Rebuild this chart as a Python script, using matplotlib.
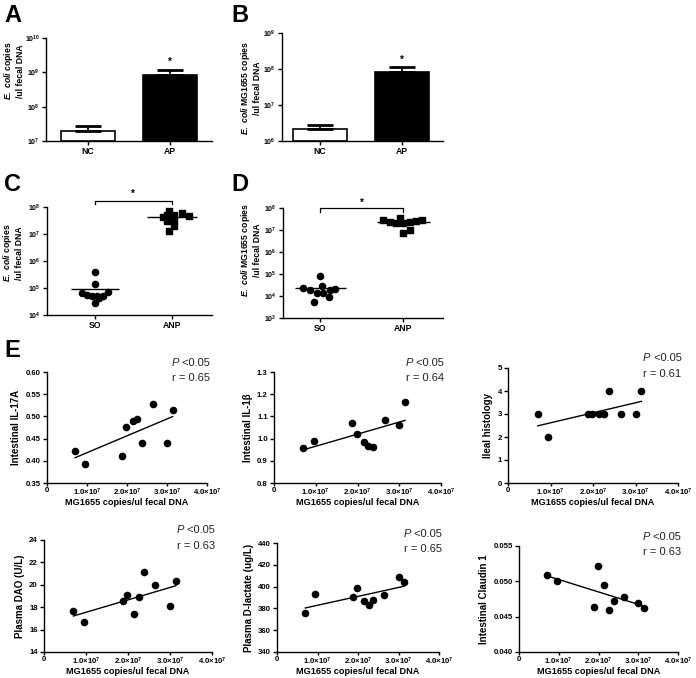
import numpy as np
import matplotlib
matplotlib.use('Agg')
import matplotlib.pyplot as plt
from matplotlib.ticker import FixedLocator, FuncFormatter, NullLocator, LogLocator, LogFormatterMathtext

plt.rcParams['font.family'] = ['Liberation Sans', 'DejaVu Sans']
plt.rcParams['font.weight'] = 'bold'
plt.rcParams['axes.labelweight'] = 'bold'
plt.rcParams['mathtext.fontset'] = 'custom'
plt.rcParams['mathtext.rm'] = 'Liberation Sans:bold'
plt.rcParams['mathtext.it'] = 'Liberation Sans:italic:bold'
plt.rcParams['mathtext.bf'] = 'Liberation Sans:bold'
plt.rcParams['axes.linewidth'] = 1.0

# ---------------- data ----------------
ab_groups = ['NC', 'AP']
a_means = [1.95e7, 8.1e8]
a_upper = [2.7e7, 1.15e9]
b_means = [2.15e6, 8.4e7]
b_upper = [2.8e6, 1.15e8]

cd_groups = ['SO', 'ANP']
c_so = [3.77e5, 1.41e5, 6.5e4, 5.6e4, 4.9e4, 4.9e4, 5.2e4, 7.2e4, 4.3e4, 2.9e4]
c_anp = [4.1e7, 6.95e7, 5.26e7, 6.22e7, 4.84e7, 5.26e7, 3.01e7, 3.01e7, 1.30e7, 1.98e7]
d_so = [8.0e4, 2.2e4, 1.9e4, 2.9e4, 1.35e4, 1.35e4, 1.9e4, 2.1e4, 8.9e3, 5.3e3]
d_anp = [2.8e7, 2.4e7, 2.1e7, 3.4e7, 2.0e7, 2.2e7, 2.6e7, 3.0e7, 7.6e6, 1.0e7]

# horizontal spread of dots within a column (layout only)
c_so_jit = [0.0, 0.0, -0.17, -0.10, -0.04, 0.03, 0.10, 0.17, 0.06, 0.0]
c_anp_jit = [-0.12, -0.04, -0.07, 0.13, 0.22, 0.03, -0.07, 0.03, -0.04, 0.03]
d_so_jit = [0.0, -0.21, -0.12, 0.02, -0.04, 0.03, 0.12, 0.18, 0.11, -0.08]
d_anp_jit = [-0.24, -0.16, -0.09, -0.04, 0.0, 0.08, 0.16, 0.23, 0.0, 0.08]

mg_copies = [0.70e7, 0.95e7, 1.88e7, 1.98e7, 2.15e7, 2.26e7, 2.38e7, 2.65e7, 3.00e7, 3.14e7]
il17a = [0.422, 0.393, 0.410, 0.476, 0.490, 0.494, 0.439, 0.527, 0.439, 0.514]
il1b = [0.957, 0.990, 1.069, 1.022, 0.984, 0.967, 0.960, 1.085, 1.063, 1.163]
ileal = [3, 2, 3, 3, 3, 3, 4, 3, 3, 4]
dao = [17.64, 16.66, 18.59, 19.12, 17.37, 18.88, 21.1, 20.0, 18.08, 20.3]
dlac = [375.4, 393.2, 390.2, 398.8, 386.5, 382.8, 387.4, 392.0, 408.6, 404.3]
claudin = [0.0509, 0.0500, 0.0464, 0.0522, 0.0495, 0.0459, 0.0472, 0.0478, 0.0470, 0.0462]

e_ylabels = ['Intestinal IL-17A', 'Intestinal IL-1β', 'Ileal histology',
             'Plasma DAO (U/L)', 'Plasma D-lactate (ug/L)', 'Intestinal Claudin 1']
e_r = ['0.65', '0.64', '0.61', '0.63', '0.65', '0.63']
e_ylims = [(0.35, 0.60), (0.8, 1.3), (0, 5), (14, 24), (340, 440), (0.040, 0.055)]
e_ysteps = [0.05, 0.1, 1, 2, 20, 0.005]
e_yfmt = ['%.2f', '%.1f', '%d', '%d', '%d', '%.3f']
e_xticks = [0, 1e7, 2e7, 3e7, 4e7]

# ---------------- figure ----------------
W, H = 696, 678
fig = plt.figure(figsize=(W / 100, H / 100), dpi=100)


def add_ax(l, r, t, b):
    ax = fig.add_axes([l / W, 1 - b / H, (r - l) / W, (b - t) / H])
    ax._box_px = (l, r, t, b)
    return ax


def style(ax, labelsize, xlen=3):
    for s in ('top', 'right'):
        ax.spines[s].set_visible(False)
    ax.tick_params(direction='out', length=3, width=1, labelsize=labelsize, pad=1.5)
    ax.tick_params(axis='x', length=xlen, pad=1.0)
    for lbl in ax.get_xticklabels() + ax.get_yticklabels():
        lbl.set_fontweight('bold')


def place_ylabel(ax, right_px, center_px):
    l, r, t, b = ax._box_px
    ax.yaxis.set_label_coords((right_px - l) / (r - l), (b - center_px) / (b - t))


def place_xlabel(ax, top_px):
    l, r, t, b = ax._box_px
    ax.xaxis.set_label_coords(0.5, -(top_px - b) / (b - t))


def ylabel_ecoli(ax, mg, right_px, center_px):
    if mg:
        txt = r'$\it{E.\ coli}$ MG1655 copies' + '\n/ul fecal DNA'
    else:
        txt = r'$\it{E.\ coli}$ copies' + '\n/ul fecal DNA'
    ax.set_ylabel(txt, fontsize=6.2, fontweight='bold', linespacing=1.15)
    place_ylabel(ax, right_px, center_px)


def bar_panel(ax, means, upper, ylo, yhi, xl, xr, star_y):
    x = np.arange(len(ab_groups))
    means = np.array(means)
    upper = np.array(upper)
    ax.set_yscale('log')
    ax.bar(x, means - ylo, bottom=ylo, width=0.66, color=['white', 'black'],
           edgecolor='black', linewidth=1.2, zorder=2)
    ax.errorbar(x, means, yerr=[np.zeros_like(means), upper - means], fmt='none',
                ecolor='black', elinewidth=1.3, capsize=9.5, capthick=2, zorder=3)
    ax.set_ylim(ylo, yhi)
    ax.set_xlim(xl, xr)
    ax.yaxis.set_major_locator(LogLocator(base=10, numticks=10))
    ax.yaxis.set_major_formatter(LogFormatterMathtext())
    ax.yaxis.set_minor_locator(NullLocator())
    ax.set_xticks(x)
    ax.set_xticklabels(ab_groups)
    ax.text(1, star_y, '*', ha='center', va='center', fontsize=7)
    style(ax, 5)
    for lbl in ax.get_xticklabels():
        lbl.set_fontsize(6.2)


def dot_panel(ax, so, anp, so_j, anp_j, ylo, yhi, xl, xr, br_top, br_leg, star_y):
    ax.set_yscale('log')
    ax.scatter(np.array(so_j) + 0, so, marker='o', s=20, color='black', zorder=3, clip_on=False)
    ax.scatter(np.array(anp_j) + 1, anp, marker='s', s=19, color='black', zorder=3, clip_on=False)
    ax.hlines(np.mean(so), -0.31, 0.31, color='black', lw=1.0)
    ax.hlines(np.mean(anp), 1 - 0.32, 1 + 0.32, color='black', lw=1.0)
    ax.plot([0, 0, 1, 1], [br_leg, br_top, br_top, br_leg], color='black', lw=0.9, clip_on=False)
    ax.text(0.5, star_y, '*', ha='center', va='center', fontsize=7)
    ax.set_ylim(ylo, yhi)
    ax.set_xlim(xl, xr)
    ax.yaxis.set_major_locator(LogLocator(base=10, numticks=10))
    ax.yaxis.set_major_formatter(LogFormatterMathtext())
    ax.yaxis.set_minor_locator(NullLocator())
    ax.set_xticks([0, 1])
    ax.set_xticklabels(cd_groups)
    style(ax, 5)
    for lbl in ax.get_xticklabels():
        lbl.set_fontsize(6.2)


# Panel A
axA = add_ax(46, 212, 38, 141)
bar_panel(axA, a_means, a_upper, 1e7, 1e10, -0.51, 1.51, 2.0e9)
ylabel_ecoli(axA, False, 25, 71)

# Panel B
axB = add_ax(282, 443, 33, 141)
bar_panel(axB, b_means, b_upper, 1e6, 1e9, -0.46, 1.5, 1.8e8)
ylabel_ecoli(axB, True, 262, 88)

# Panel C
axC = add_ax(47, 212, 207, 315)
dot_panel(axC, c_so, c_anp, c_so_jit, c_anp_jit, 1e4, 1e8, -0.62, 1.52, 1.7e8, 1.28e8, 3.0e8)
ylabel_ecoli(axC, False, 24, 253)

# Panel D
axD = add_ax(283, 443, 208, 318)
dot_panel(axD, d_so, d_anp, d_so_jit, d_anp_jit, 1e3, 1e8, -0.45, 1.48, 0.98e8, 0.64e8, 1.8e8)
ylabel_ecoli(axD, True, 262, 250)

# Panel E
e_boxes = [(47, 207, 372, 483), (274, 441, 372, 483), (508, 678, 368, 483),
           (44, 212, 540, 652), (277, 439, 543, 652), (519, 678, 546, 652)]
e_xlabel_top = [498, 498, 498, 667, 667, 667]
e_data = [il17a, il1b, ileal, dao, dlac, claudin]


def xfmt(v, pos):
    if v == 0:
        return '0'
    return r'$\mathdefault{%.1f{\times}10^{7}}$' % (v / 1e7)


for i, (box, yv) in enumerate(zip(e_boxes, e_data)):
    ax = add_ax(*box)
    xv = np.array(mg_copies)
    yv = np.array(yv, dtype=float)
    ax.scatter(xv, yv, s=20, color='black', zorder=3, clip_on=False)
    k, c0 = np.polyfit(xv, yv, 1)
    xs = np.array([xv.min(), xv.max()])
    ax.plot(xs, k * xs + c0, color='black', lw=1.0)
    ax.set_xlim(0, 4e7)
    lo, hi = e_ylims[i]
    ax.set_ylim(lo, hi)
    ax.xaxis.set_major_locator(FixedLocator(e_xticks))
    ax.xaxis.set_major_formatter(FuncFormatter(xfmt))
    ax.yaxis.set_major_locator(FixedLocator(np.arange(lo, hi + e_ysteps[i] / 2, e_ysteps[i])))
    fmt = e_yfmt[i]
    ax.yaxis.set_major_formatter(FuncFormatter(lambda v, p, f=fmt: f % v))
    style(ax, 5.6, xlen=2)
    ax.set_ylabel(e_ylabels[i], fontsize=7, fontweight='bold', labelpad=3)
    ax.set_xlabel('MG1655 copies/ul fecal DNA', fontsize=6.6, fontweight='bold')
    place_xlabel(ax, e_xlabel_top[i])
    t2 = ax.text(1.02, 1.085, ' <0.05', transform=ax.transAxes, ha='right', va='center',
                 fontsize=8, fontweight='normal', color='#222222')
    ax.annotate('P', xy=(0, 0), xycoords=t2, ha='right', va='bottom', fontsize=8,
                fontweight='normal', fontstyle='italic', color='#222222')
    ax.text(1.02, 0.945, 'r = ' + e_r[i], transform=ax.transAxes, ha='right', va='center',
            fontsize=8, fontweight='normal', color='#222222')

# panel letters
for letter, (px, py) in zip('ABCDE', [(4, 4), (231, 4), (4, 173), (231, 173), (4, 339)]):
    fig.text(px / W, 1 - py / H, letter, fontsize=17, fontweight='bold', ha='left', va='top')

fig.savefig('out.png', dpi=100)
